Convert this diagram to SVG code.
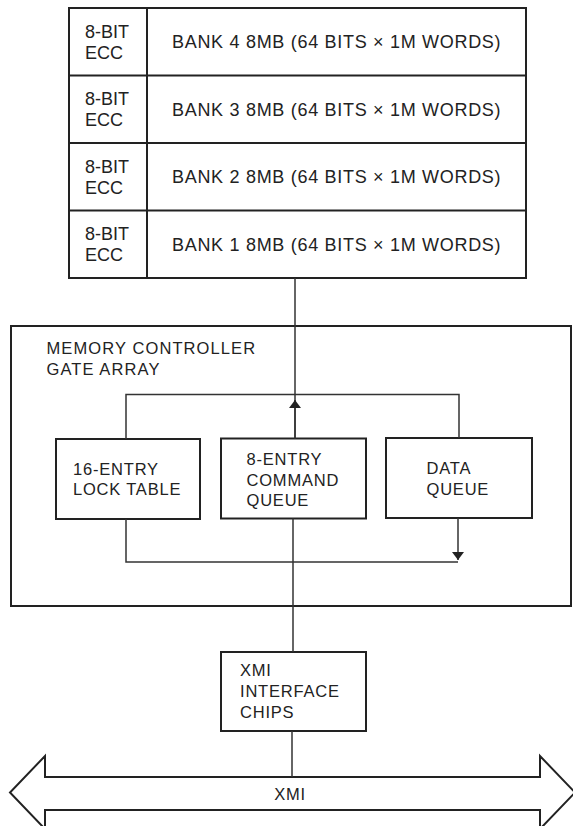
<svg xmlns="http://www.w3.org/2000/svg" width="573" height="826" viewBox="0 0 573 826">
  <style>
    .box { fill: none; stroke: #222; stroke-width: 2; }
    .wire { fill: none; stroke: #333; stroke-width: 1.5; }
    .lbl { font-family: "Liberation Sans", Arial, sans-serif; fill: #222; }
    .ecc { font-size: 18px; }
    .bank { font-size: 18px; letter-spacing: 0.7px; }
    .ctl { font-size: 16.5px; letter-spacing: 1.1px; }
    .unit { font-size: 16.5px; letter-spacing: 0.8px; }
  </style>
  <defs>
    <marker id="head" viewBox="0 0 8 12" refX="8" refY="6" markerWidth="8" markerHeight="12" markerUnits="userSpaceOnUse" orient="auto">
      <path d="M0,0 L8,6 L0,12 Z" fill="#222"/>
    </marker>
  </defs>

  <rect width="573" height="826" fill="#fff"/>

  <!-- memory banks -->
  <g id="memory-array">
    <rect class="box" x="69" y="8" width="457" height="270"/>
    <line class="box" x1="69" y1="75.5" x2="526" y2="75.5"/>
    <line class="box" x1="69" y1="143" x2="526" y2="143"/>
    <line class="box" x1="69" y1="210.5" x2="526" y2="210.5"/>
    <line class="box" x1="147" y1="8" x2="147" y2="278"/>
  </g>
  <g id="bank4">
    <text class="lbl ecc" x="85" y="37.5">8-BIT</text>
    <text class="lbl ecc" x="85" y="58.5">ECC</text>
    <text class="lbl bank" x="172" y="48">BANK 4 8MB (64 BITS × 1M WORDS)</text>
  </g>
  <g id="bank3">
    <text class="lbl ecc" x="85" y="105">8-BIT</text>
    <text class="lbl ecc" x="85" y="126">ECC</text>
    <text class="lbl bank" x="172" y="115.5">BANK 3 8MB (64 BITS × 1M WORDS)</text>
  </g>
  <g id="bank2">
    <text class="lbl ecc" x="85" y="172.5">8-BIT</text>
    <text class="lbl ecc" x="85" y="193.5">ECC</text>
    <text class="lbl bank" x="172" y="183">BANK 2 8MB (64 BITS × 1M WORDS)</text>
  </g>
  <g id="bank1">
    <text class="lbl ecc" x="85" y="240">8-BIT</text>
    <text class="lbl ecc" x="85" y="261">ECC</text>
    <text class="lbl bank" x="172" y="250.5">BANK 1 8MB (64 BITS × 1M WORDS)</text>
  </g>

  <!-- memory controller gate array -->
  <g id="controller">
    <rect class="box" x="11" y="326" width="560" height="280"/>
    <text class="lbl ctl" x="46.5" y="354">MEMORY CONTROLLER</text>
    <text class="lbl ctl" x="46.5" y="375">GATE ARRAY</text>
  </g>
  <g id="lock-table">
    <rect class="box" x="56" y="439" width="144" height="80"/>
    <text class="lbl unit" x="73" y="475">16-ENTRY</text>
    <text class="lbl unit" x="73" y="495">LOCK TABLE</text>
  </g>
  <g id="command-queue">
    <rect class="box" x="221" y="438.5" width="145" height="80"/>
    <text class="lbl unit" x="246.5" y="465">8-ENTRY</text>
    <text class="lbl unit" x="246.5" y="485.5">COMMAND</text>
    <text class="lbl unit" x="246.5" y="506">QUEUE</text>
  </g>
  <g id="data-queue">
    <rect class="box" x="386" y="438" width="146" height="80"/>
    <text class="lbl unit" x="426.5" y="474">DATA</text>
    <text class="lbl unit" x="426.5" y="495">QUEUE</text>
  </g>

  <!-- XMI interface chips -->
  <g id="xmi-chips">
    <rect class="box" x="221" y="652" width="145" height="79"/>
    <text class="lbl unit" x="240" y="676">XMI</text>
    <text class="lbl unit" x="240" y="697">INTERFACE</text>
    <text class="lbl unit" x="240" y="718">CHIPS</text>
  </g>

  <!-- XMI bus -->
  <g id="xmi-bus">
    <path class="box" d="M45,777 L540,777 L540,756 L575,792.5 L540,829 L540,810 L45,810 L45,829 L10,792.5 L45,756 Z"/>
    <text class="lbl unit" x="290" y="800" text-anchor="middle">XMI</text>
  </g>

  <!-- connectors -->
  <g id="connectors">
    <!-- command queue up to memory banks -->
    <line class="wire" x1="295" y1="438.5" x2="295" y2="278"/>
    <line class="wire" x1="295" y1="438.5" x2="295" y2="400" marker-end="url(#head)"/>
    <!-- upper loop: lock table to data queue -->
    <path class="wire" d="M126,439 L126,394.5 L459,394.5 L459,438"/>
    <!-- lower loop: data queue down, lock table joined -->
    <path class="wire" d="M126,519 L126,562 L458,562"/>
    <line class="wire" x1="458" y1="518" x2="458" y2="560" marker-end="url(#head)"/>
    <!-- command queue down to interface chips -->
    <line class="wire" x1="293" y1="518.5" x2="293" y2="652"/>
    <!-- interface chips to bus -->
    <line class="wire" x1="292" y1="731" x2="292" y2="777"/>
  </g>
</svg>
